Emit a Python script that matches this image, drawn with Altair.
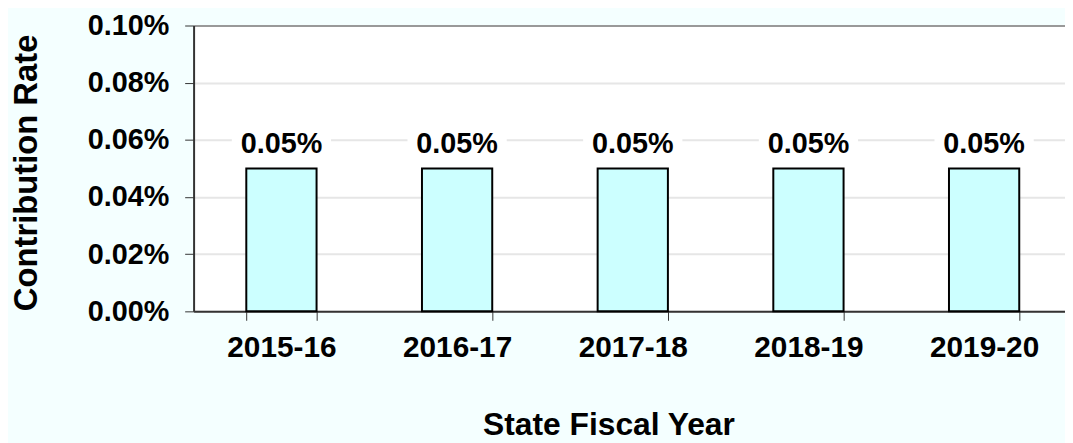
import altair as alt
import pandas as pd

years = ["2015-16", "2016-17", "2017-18", "2018-19", "2019-20"]
rates = [0.0005, 0.0005, 0.0005, 0.0005, 0.0005]
y_ticks = [0, 0.0002, 0.0004, 0.0006, 0.0008, 0.001]

df = pd.DataFrame({"year": years, "rate": rates})

FONT = "Liberation Sans"

x_scale = alt.Scale(domain=years, paddingInner=0.6, paddingOuter=0.3)

x_enc = alt.X(
    "year:N",
    sort=years,
    title="State Fiscal Year",
    scale=x_scale,
    axis=alt.Axis(
        labelAngle=0,
        labelFont=FONT,
        labelFontSize=30,
        labelFontWeight="bold",
        labelColor="black",
        labelPadding=12,
        tickBand="extent",
        tickSize=9,
        tickColor="#333333",
        tickWidth=1,
        domainColor="#333333",
        domainWidth=2,
        grid=False,
        titleFont=FONT,
        titleFontSize=32,
        titleFontWeight="bold",
        titleColor="black",
        titleX=418,
        titleY=114,
        titleBaseline="middle",
        titleAnchor="start",
        titleAlign="center",
    ),
)

y_enc = alt.Y(
    "rate:Q",
    title="Contribution Rate",
    scale=alt.Scale(domain=[0, 0.001], nice=False),
    axis=alt.Axis(
        values=y_ticks,
        format=".2%",
        labelFont=FONT,
        labelFontSize=29,
        labelFontWeight="bold",
        labelColor="black",
        labelPadding=16,
        labelBaseline="middle",
        tickSize=9,
        tickColor="#333333",
        tickWidth=1,
        domainColor="#333333",
        domainWidth=2,
        grid=True,
        gridColor={"condition": {"test": "datum.value >= 0.001", "value": "#999999"}, "value": "#E6E6E6"},
        gridWidth=2,
        titleFont=FONT,
        titleFontSize=33,
        titleFontWeight="bold",
        titleColor="black",
        titleX=-168,
        titleY=148,
        titleBaseline="middle",
        titleAngle=270,
        titleAlign="center",
    ),
)

base = alt.Chart(df).encode(x=x_enc, y=y_enc)

bars = base.mark_bar(fill="#CCFFFF", stroke="black", strokeWidth=2)

boxes = base.mark_point(
    shape="M-1,-0.15L1,-0.15L1,0.15L-1,0.15Z",
    size=10000,
    filled=True,
    fill="white",
    opacity=1,
    strokeWidth=0,
    yOffset=-25,
)

labels = base.mark_text(
    font=FONT,
    fontSize=29,
    fontWeight="bold",
    color="black",
    baseline="middle",
    dy=-25,
).encode(text=alt.Text("rate:Q", format=".2%"))

chart = (
    alt.layer(bars, boxes, labels)
    .properties(
        width=885,
        height=288,
        background="#F4FFFF",
        autosize=alt.AutoSizeParams(type="none"),
        padding={"left": 187, "top": 16, "right": -7, "bottom": 131},
    )
    .configure_view(fill="white", stroke=None)
)

chart.save("out.html", embed_options={"renderer": "svg", "actions": False})
